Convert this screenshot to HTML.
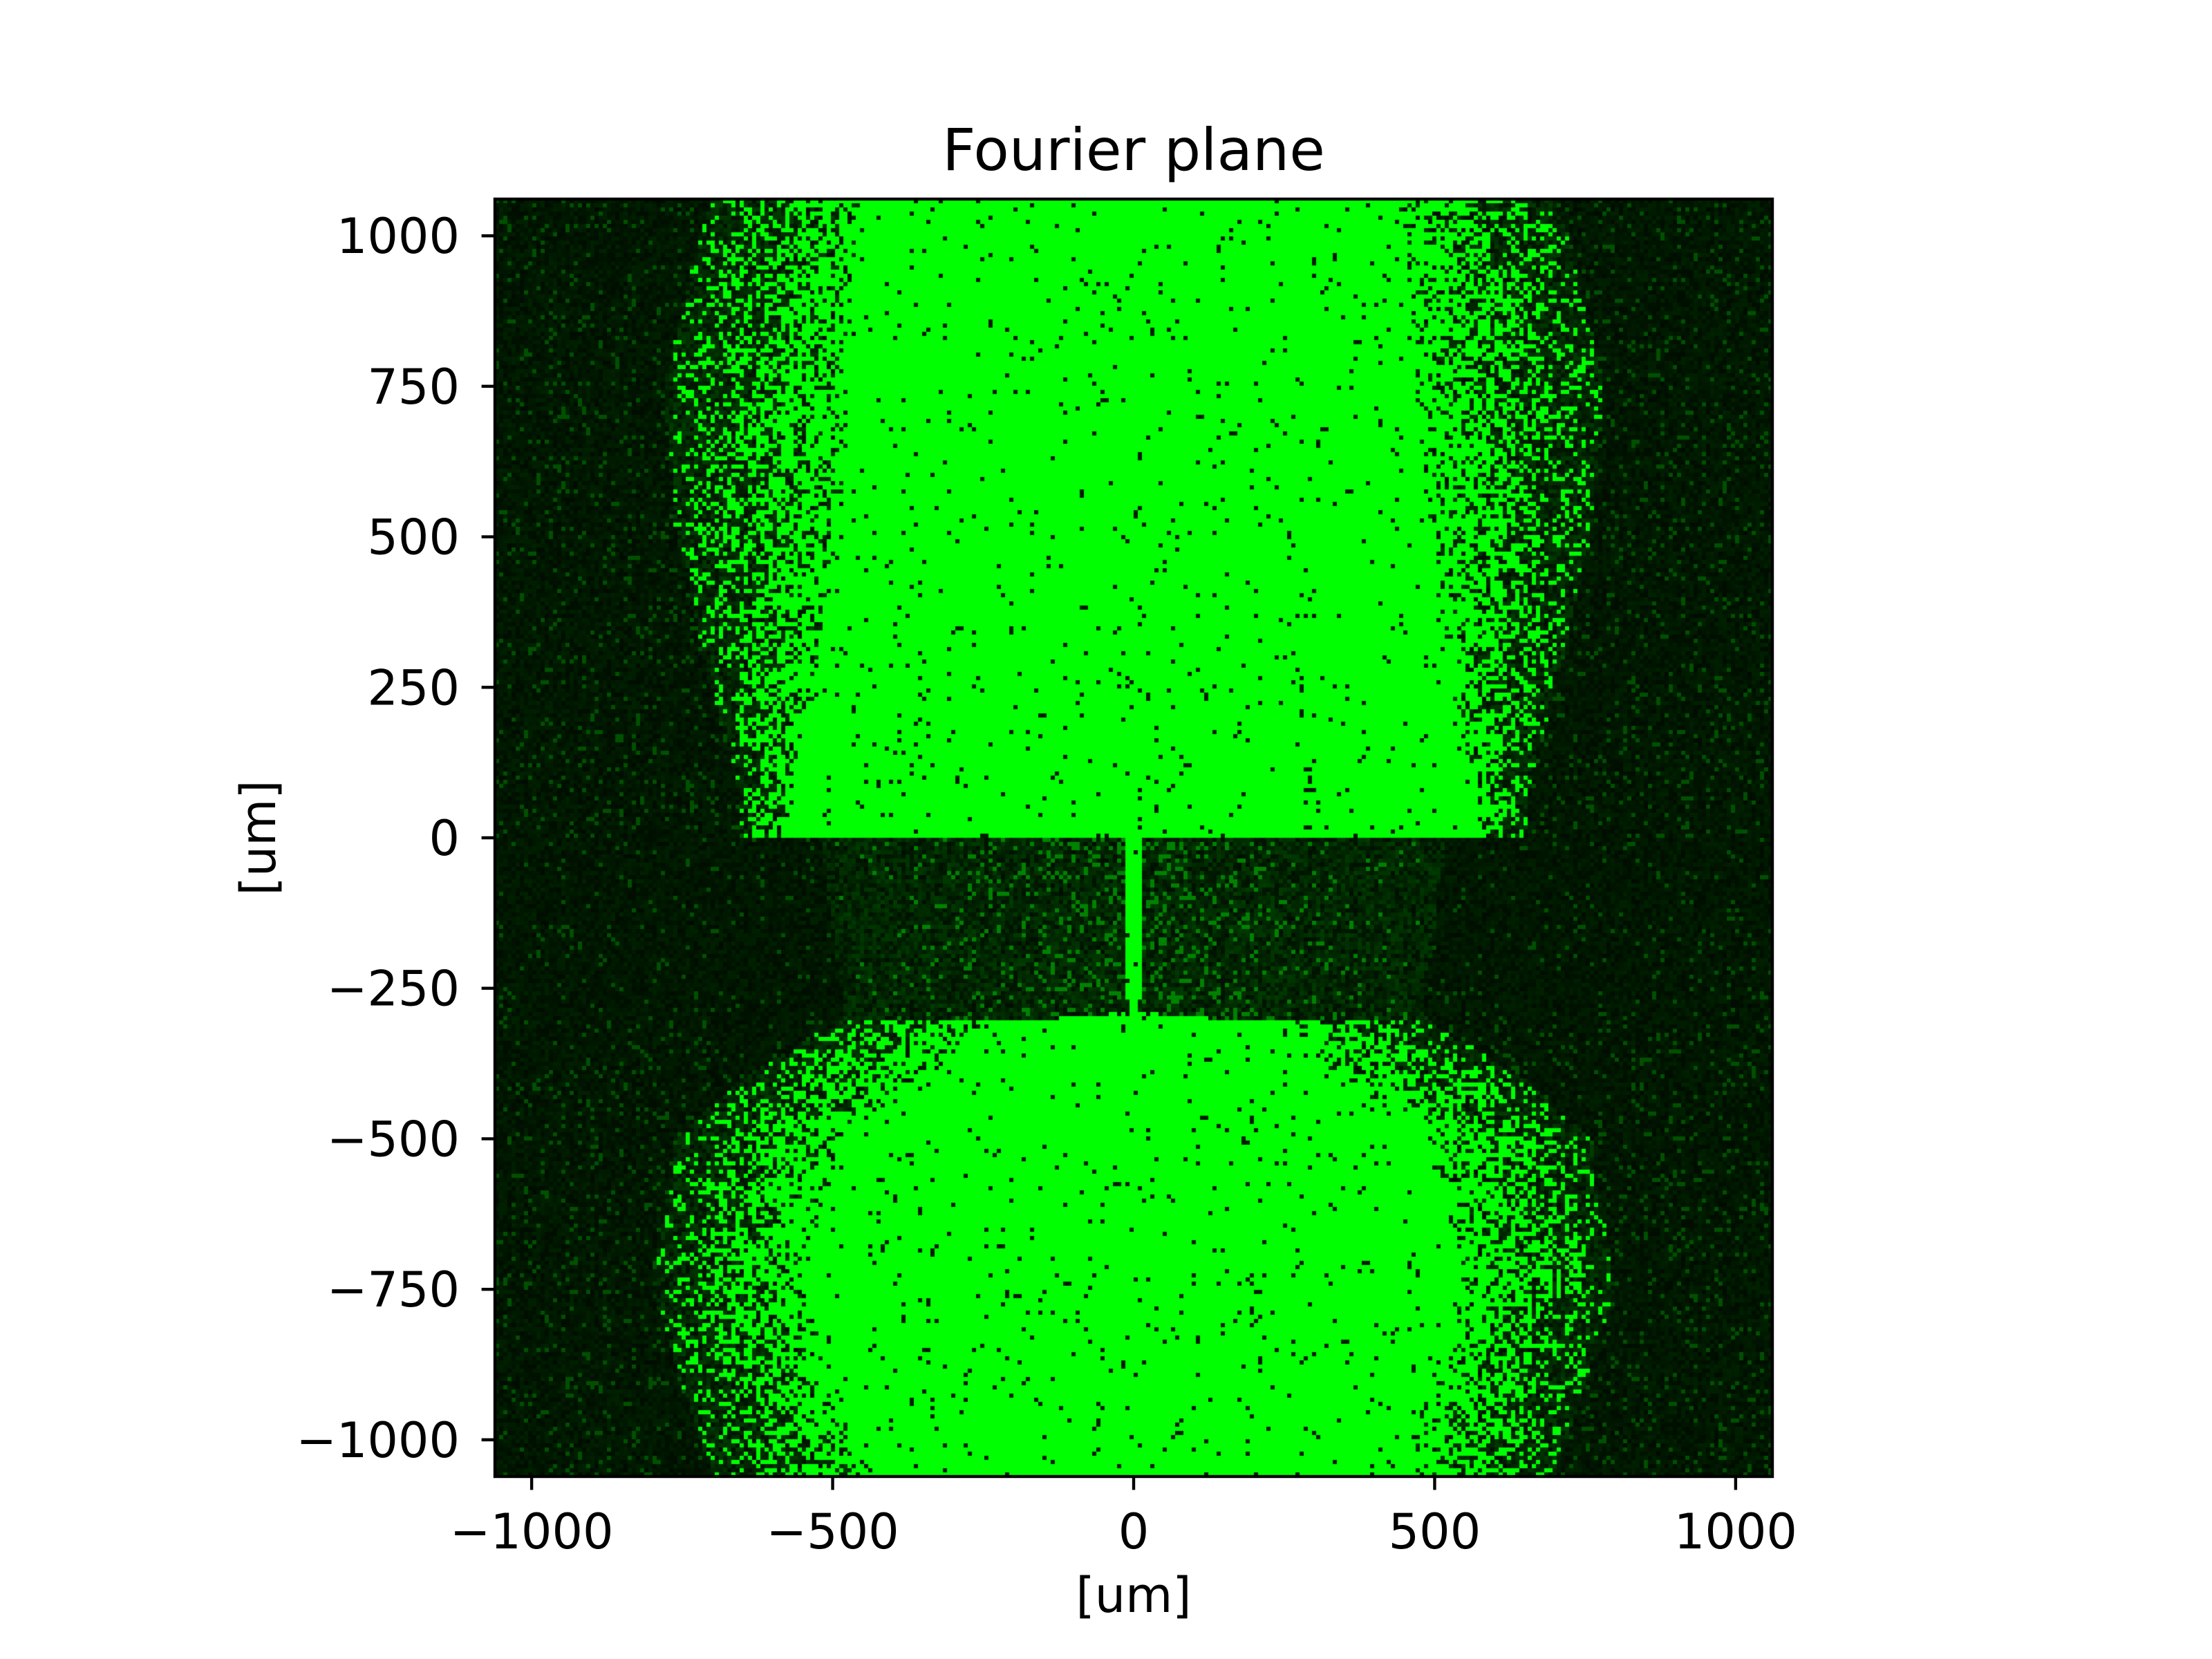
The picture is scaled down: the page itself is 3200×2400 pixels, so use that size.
<!DOCTYPE html>
<html><head><meta charset="utf-8">
<style>
html,body{margin:0;padding:0;background:#fff;}
#wrap{position:relative;width:3200px;height:2400px;background:#fff;font-family:"DejaVu Sans","Liberation Sans",sans-serif;}
canvas{position:absolute;left:716px;top:288px;}
svg{position:absolute;left:0;top:0;}
</style></head>
<body>
<div id="wrap">
<canvas id="cv" width="1848" height="1848"></canvas>
<svg id="sv" width="3200" height="2400"></svg>
</div>
<script>
// Data: band rows (y in um), bright core half-width and textured outer half-width (um)
const bandY      = [1060, 1000, 750, 500, 250, 100, 1,   -1,  -150, -290, -310, -400, -500, -750, -1000, -1060];
const coreHalf   = [440,  450,  470, 490, 530, 560, 580, 15,  12,   10,   250,  330,  490,  550,  460,   450];
const outerHalf  = [700,  720,  780, 760, 700, 660, 650, 520, 500,  480,  500,  650,  760,  800,  720,   700];
const xTicks = [-1000, -500, 0, 500, 1000];
const yTicks = [1000, 750, 500, 250, 0, -250, -500, -750, -1000];
const xTickLabels = ["\u22121000","\u2212500","0","500","1000"];
const yTickLabels = ["1000","750","500","250","0","\u2212250","\u2212500","\u2212750","\u22121000"];
const extent = 1061;

const AX = {x0:716, y0:288, w:1848, h:1848};
const xs = v => AX.x0 + (v + extent) / (2*extent) * AX.w;
const ys = v => AX.y0 + (extent - v) / (2*extent) * AX.h;

function interp(arr, y){
  for(let i=0;i<bandY.length-1;i++){
    if(y<=bandY[i] && y>=bandY[i+1]){
      const t=(bandY[i]-y)/(bandY[i]-bandY[i+1]||1);
      return arr[i]+(arr[i+1]-arr[i])*t;
    }
  }
  return arr[arr.length-1];
}
function hash(a,b){let h=(a*374761393+b*668265263)|0;h=(h^(h>>>13))*1274126177|0;return ((h^(h>>>16))>>>0)/4294967295;}

const cv=document.getElementById('cv');const ctx=cv.getContext('2d');
ctx.fillStyle='rgb(0,18,0)';ctx.fillRect(0,0,1848,1848);
const cell=6;
for(let j=0;j<1848/cell;j++){
  const y=extent-(j*cell+cell/2)/1848*2*extent;
  const core=interp(coreHalf,y), outer=interp(outerHalf,y);
  const lower = y<0 && y>-300;
  for(let i=0;i<1848/cell;i++){
    const x=-extent+(i*cell+cell/2)/1848*2*extent;
    const ax=Math.abs(x);
    const r=hash(i,j);
    let g;
    if(ax<=core){ g = r<0.03?30:255; }
    else if(ax<=outer){
      const t=(ax-core)/(outer-core);
      const p = lower ? 0.2*(1-t) : 0.85-0.7*t;
      g = r<p ? (lower?130:255) : 15+45*hash(j,i);
    } else {
      g = r<(lower?0.04:0.08) ? 80 : 12+22*hash(j,i);
    }
    ctx.fillStyle='rgb(0,'+Math.round(g)+',0)';
    ctx.fillRect(i*cell,j*cell,cell,cell);
  }
}

const NS='http://www.w3.org/2000/svg';const sv=document.getElementById('sv');
function mk(tag,attrs,txt){const e=document.createElementNS(NS,tag);for(const k in attrs)e.setAttribute(k,attrs[k]);if(txt!==undefined)e.textContent=txt;sv.appendChild(e);return e;}
const frame=mk('rect',{x:AX.x0,y:AX.y0,width:AX.w,height:AX.h,fill:'none',stroke:'#000','stroke-width':4.4});


xTicks.forEach((v,k)=>{
  const t=mk('line',{x1:xs(v),x2:xs(v),y1:AX.y0+AX.h,y2:AX.y0+AX.h+19.4,stroke:'#000','stroke-width':4.4});
  
  
  const l=mk('text',{x:xs(v),y:2240,'text-anchor':'middle','font-size':70,fill:'#000'},xTickLabels[k]);
  
  
});
yTicks.forEach((v,k)=>{
  const t=mk('line',{x1:AX.x0-19.4,x2:AX.x0,y1:ys(v),y2:ys(v),stroke:'#000','stroke-width':4.4});
  
  
  const l=mk('text',{x:665,y:ys(v)+25,'text-anchor':'end','font-size':70,fill:'#000'},yTickLabels[k]);
  
  
});
const tt=mk('text',{x:AX.x0+AX.w/2,y:246,'text-anchor':'middle','font-size':84,fill:'#000'},'Fourier plane');


const xl=mk('text',{x:AX.x0+AX.w/2,y:2332,'text-anchor':'middle','font-size':70,fill:'#000'},'[um]');


const yl=mk('text',{x:0,y:0,'text-anchor':'middle','font-size':70,fill:'#000',transform:'translate(398,'+(AX.y0+AX.h/2)+') rotate(-90)'},'[um]');


</script>
</body></html>
